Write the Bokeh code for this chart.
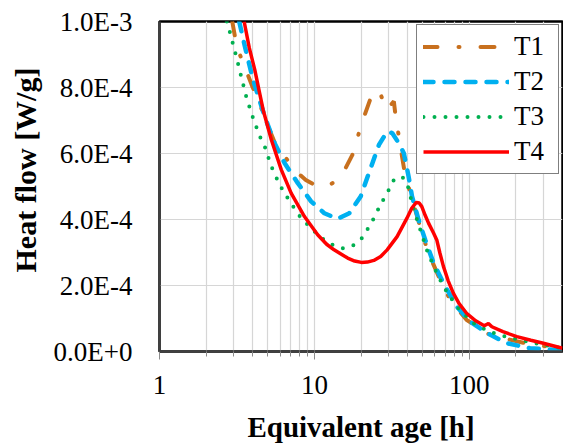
from bokeh.plotting import figure
from bokeh.models import (FixedTicker, CustomJSTickFormatter, Range1d, Legend,
                          LegendItem, Title)
from bokeh.embed import file_html
from bokeh.resources import INLINE

# ---- data (heat flow in units of 1E-4 W/g) ----
t1_age = [2.95, 3.07, 3.3, 3.65, 4.0, 4.33, 5.0, 5.68, 6.43, 7.63, 8.8, 10.0, 11.0,
          12.2, 13.5, 15.2, 17.6, 20.4, 23.1, 25.5, 27.0, 28.8, 30.5, 31.5, 32.6,
          33.5, 35.1, 36.8, 38.7, 41.7, 44.8, 49.5, 54.6, 64.9, 75.2, 96.0, 129.0,
          160.0, 230.0, 300.0, 400.0]
t1_flow = [10.0, 9.55, 9.0, 8.48, 8.0, 7.63, 6.85, 6.21, 5.91, 5.45, 5.2, 5.05, 5.0,
           5.0, 5.15, 5.38, 5.96, 6.97, 7.68, 7.93, 7.75, 7.37, 7.35, 7.5, 7.58,
           7.1, 6.52, 5.91, 5.30, 4.80, 4.29, 3.59, 2.98, 2.17, 1.57, 0.96, 0.55,
           0.42, 0.25, 0.17, 0.08]

t2_age = [3.27, 3.56, 4.02, 4.78, 5.54, 6.42, 7.82, 9.52, 11.6, 14.1, 16.8, 19.9,
          23.1, 26.1, 29.5, 31.8, 35.1, 37.8, 40.6, 42.7, 47.1, 52.0, 58.8, 68.1,
          83.0, 101.0, 130.0, 175.0, 247.0, 349.0, 400.0]
t2_flow = [10.0, 9.24, 8.23, 7.12, 6.31, 5.71, 5.10, 4.55, 4.19, 4.02, 4.19, 4.70,
           5.56, 6.26, 6.67, 6.62, 6.31, 6.01, 5.30, 4.70, 3.99, 3.38, 2.68, 2.07,
           1.36, 0.91, 0.56, 0.25, 0.10, 0.05, 0.03]

t3_age = [2.72, 2.82, 3.15, 3.39, 3.65, 4.02, 4.44, 4.78, 5.27, 5.97, 6.92, 8.22,
          10.0, 11.6, 13.4, 15.2, 17.6, 19.9, 22.0, 24.3, 26.7, 29.5, 32.6, 36.8,
          39.7, 41.7, 43.8, 48.3, 53.2, 58.8, 68.1, 83.0, 106.0, 129.0, 151.0,
          213.0, 287.0, 400.0]
t3_flow = [10.0, 9.75, 8.89, 8.28, 7.68, 7.07, 6.52, 6.21, 5.61, 5.05, 4.55, 4.04,
           3.64, 3.38, 3.21, 3.13, 3.20, 3.38, 3.70, 4.05, 4.45, 4.80, 5.20, 5.30,
           5.10, 4.70, 4.29, 3.69, 3.08, 2.58, 1.97, 1.36, 0.86, 0.65, 0.52,
           0.35, 0.22, 0.10]

t4_age = [3.52, 3.8, 4.12, 4.4, 4.67, 5.28, 6.11, 7.08, 8.63, 10.5, 12.0, 13.4, 16.4,
          18.2, 20.1, 22.0, 24.2, 26.8, 29.5, 34.2, 39.6, 42.5, 45.5, 47.5, 49.4,
          52.0, 54.6, 58.8, 61.7, 64.5, 68.1, 73.0, 78.9, 86.0, 96.1, 110.0, 125.0,
          133.0, 140.0, 165.0, 203.0, 250.0, 301.0, 400.0]
t4_flow = [10.0, 9.2, 8.54, 7.9, 7.32, 6.41, 5.51, 4.80, 4.09, 3.54, 3.25, 3.08, 2.83,
           2.74, 2.70, 2.71, 2.76, 2.88, 3.08, 3.48, 4.04, 4.34, 4.52, 4.50, 4.39,
           4.12, 3.89, 3.59, 3.38, 3.00, 2.58, 2.15, 1.77, 1.45, 1.16, 0.93, 0.78,
           0.85, 0.75, 0.60, 0.45, 0.34, 0.25, 0.10]

flow_unit = 1e-4
y_ticks = [0.0, 0.0002, 0.0004, 0.0006, 0.0008, 0.001]
x_major = [1, 10, 100]
x_minor = [2, 3, 4, 5, 6, 7, 8, 9, 20, 30, 40, 50, 60, 70, 80, 90, 200, 300]
series_names = ["T1", "T2", "T3", "T4"]
x_title = "Equivalent age [h]"
y_title = "Heat flow [W/g]"

FONT = "Liberation Serif"

p = figure(width=563, height=445, x_axis_type="log",
           x_range=Range1d(1, 400), y_range=Range1d(0, 1e-3),
           output_backend="svg", toolbar_location=None, title=None,
           min_border_left=157, min_border_right=1, min_border_top=21,
           min_border_bottom=93)

p.background_fill_color = "white"
p.border_fill_color = "white"
p.outline_line_color = "black"
p.outline_line_width = 2.5

# grids
p.xgrid.grid_line_color = "#d6d6d6"
p.xgrid.grid_line_width = 1.2
p.xgrid.minor_grid_line_color = "#d6d6d6"
p.xgrid.minor_grid_line_width = 1.2
p.ygrid.grid_line_color = "#d6d6d6"
p.ygrid.grid_line_width = 1.2

# x axis
xa = p.xaxis[0]
xa.ticker = FixedTicker(ticks=x_major, minor_ticks=x_minor)
xa.formatter = CustomJSTickFormatter(code="return tick.toFixed(0);")
xa.axis_line_color = "#404040"
xa.axis_line_width = 2.5
xa.major_tick_line_color = "#8c8c8c"
xa.minor_tick_line_color = "#8c8c8c"
xa.major_tick_out = 8
xa.major_tick_in = 0
xa.minor_tick_out = 5
xa.minor_tick_in = 0
xa.major_label_standoff = 16
xa.major_label_text_font = FONT
xa.major_label_text_font_size = "27px"
xa.major_label_text_color = "black"
xa.axis_label = x_title
xa.axis_label_text_font = FONT
xa.axis_label_text_font_style = "bold"
xa.axis_label_text_font_size = "29px"
xa.axis_label_text_color = "black"
xa.axis_label_standoff = 14

# y axis
ya = p.yaxis[0]
ya.ticker = FixedTicker(ticks=y_ticks)
ya.formatter = CustomJSTickFormatter(code="return tick.toExponential(1).toUpperCase();")
ya.axis_line_color = "#404040"
ya.axis_line_width = 2.5
ya.major_tick_line_color = None
ya.minor_tick_line_color = None
ya.major_tick_out = 0
ya.major_tick_in = 0
ya.major_label_standoff = 27
ya.major_label_text_font = FONT
ya.major_label_text_font_size = "27px"
ya.major_label_text_color = "black"

# y axis title (placed off-centre like the original)
p.add_layout(Title(text=y_title, align="left", vertical_align="middle", offset=79,
                   text_font=FONT, text_font_style="bold",
                   text_font_size="30px", text_color="black", standoff=15), "left")

# series
def scaled(vals):
    return [v * flow_unit for v in vals]

r1 = p.line(t1_age, scaled(t1_flow), line_color="#C8701E", line_width=4,
            line_dash="14 21 1 21", line_cap="round")
r2 = p.line(t2_age, scaled(t2_flow), line_color="#00B0F0", line_width=4.5,
            line_dash="10 11", line_cap="round")
r3 = p.line(t3_age, scaled(t3_flow), line_color="#00B050", line_width=4,
            line_dash="0 11", line_cap="round")
r4 = p.line(t4_age, scaled(t4_flow), line_color="#FF0000", line_width=3.5)

legend = Legend(items=[LegendItem(label=n, renderers=[r])
                       for n, r in zip(series_names, [r1, r2, r3, r4])],
                location="top_right")
legend.label_text_font = FONT
legend.label_text_font_size = "27px"
legend.label_text_color = "black"
legend.glyph_width = 86
legend.glyph_height = 31
legend.label_standoff = 5
legend.label_width = 38
legend.padding = 6
legend.spacing = 4
legend.margin = 3
legend.border_line_color = "black"
legend.border_line_width = 1.5
legend.background_fill_color = "white"
legend.background_fill_alpha = 1.0
p.add_layout(legend)

open("out.html", "w").write(file_html(p, INLINE))
